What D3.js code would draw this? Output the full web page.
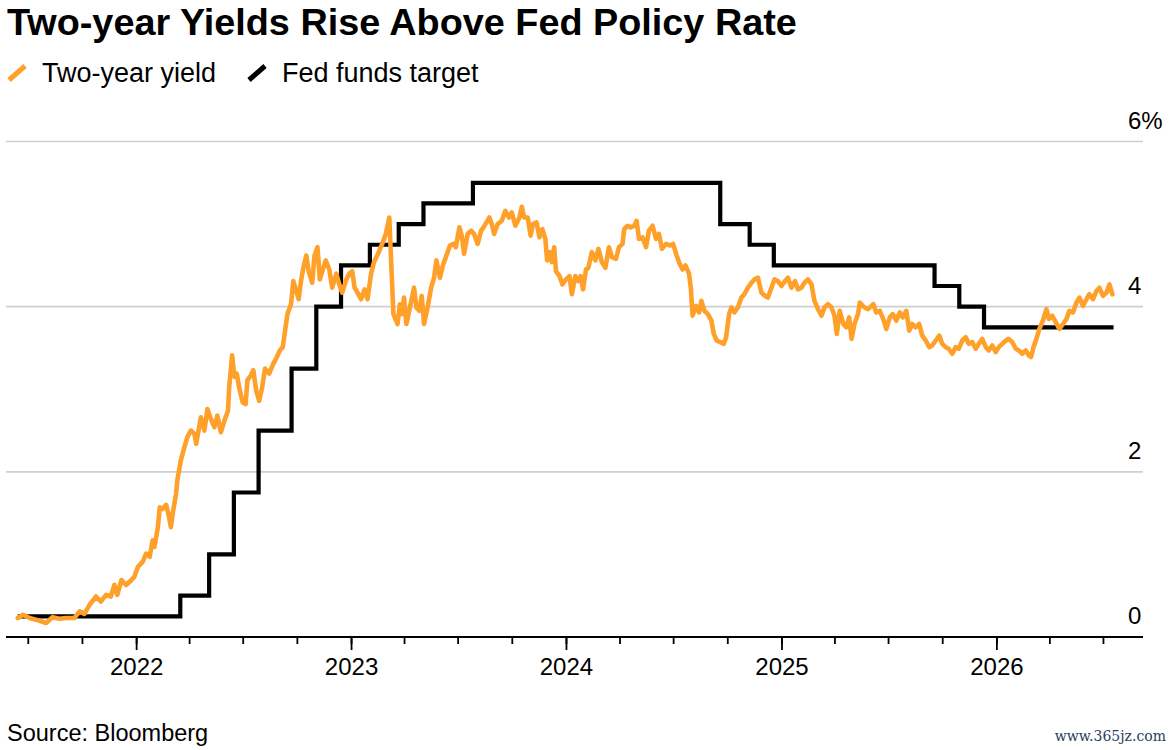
<!DOCTYPE html>
<html>
<head>
<meta charset="utf-8">
<script src="https://cdn.jsdelivr.net/npm/d3@7"></script>
<style>
  html, body { margin: 0; padding: 0; background: #fff; }
  #chart { width: 1175px; height: 750px; }
  #chart text { font-family: "Liberation Sans", Arial, Helvetica, sans-serif; fill: #000; }
</style>
</head>
<body>
<div id="chart"></div>
<script>
// Two-year Treasury yield (%)
const yieldDates = [
  "2021-06-14","2021-06-23","2021-07-04","2021-07-15","2021-08-01","2021-08-12","2021-08-24","2021-09-04","2021-09-18","2021-09-27",
  "2021-10-05","2021-10-14","2021-10-25","2021-11-02","2021-11-11","2021-11-19","2021-11-25","2021-11-30","2021-12-07","2021-12-15","2021-12-24","2021-12-29",
  "2022-01-04","2022-01-12","2022-01-18","2022-01-24","2022-01-29","2022-02-01","2022-02-07","2022-02-10","2022-02-15","2022-02-21","2022-02-26","2022-03-01","2022-03-04","2022-03-10","2022-03-12","2022-03-18","2022-03-24","2022-03-29",
  "2022-04-04","2022-04-10","2022-04-13","2022-04-21","2022-04-27","2022-05-02","2022-05-08","2022-05-14","2022-05-19","2022-05-25","2022-05-31","2022-06-06","2022-06-08","2022-06-13","2022-06-17","2022-06-21","2022-06-25",
  "2022-07-01","2022-07-06","2022-07-09","2022-07-15","2022-07-19","2022-07-24","2022-07-29","2022-08-03","2022-08-08","2022-08-15","2022-08-22","2022-08-28","2022-09-02","2022-09-07","2022-09-11","2022-09-15","2022-09-21","2022-09-25","2022-09-30",
  "2022-10-04","2022-10-08","2022-10-12","2022-10-17","2022-10-21","2022-10-27","2022-10-31","2022-11-05","2022-11-09","2022-11-14","2022-11-19","2022-11-25","2022-11-30","2022-12-07","2022-12-12","2022-12-17","2022-12-24","2022-12-29",
  "2023-01-03","2023-01-07","2023-01-12","2023-01-18","2023-01-24","2023-01-29","2023-02-04","2023-02-09","2023-02-17","2023-02-24","2023-03-01","2023-03-07","2023-03-10","2023-03-14","2023-03-21","2023-03-25","2023-03-29",
  "2023-04-01","2023-04-05","2023-04-11","2023-04-18","2023-04-22","2023-04-27","2023-05-01","2023-05-05","2023-05-11","2023-05-17","2023-05-22","2023-05-26","2023-06-01","2023-06-06","2023-06-11","2023-06-18","2023-06-24","2023-06-28",
  "2023-07-04","2023-07-08","2023-07-12","2023-07-18","2023-07-24","2023-07-29","2023-08-04","2023-08-10","2023-08-14","2023-08-19","2023-08-24","2023-08-28","2023-09-01","2023-09-07","2023-09-14","2023-09-20","2023-09-26",
  "2023-10-01","2023-10-07","2023-10-14","2023-10-18","2023-10-22","2023-10-28","2023-11-02","2023-11-06","2023-11-12","2023-11-17","2023-11-22","2023-11-27","2023-11-30","2023-12-05","2023-12-08","2023-12-12","2023-12-15","2023-12-21","2023-12-26",
  "2024-01-01","2024-01-07","2024-01-11","2024-01-17","2024-01-22","2024-01-26","2024-01-30","2024-02-04","2024-02-08","2024-02-14","2024-02-20","2024-02-25","2024-03-02","2024-03-08","2024-03-14","2024-03-19","2024-03-26","2024-03-31",
  "2024-04-06","2024-04-09","2024-04-15","2024-04-20","2024-04-26","2024-04-30","2024-05-04","2024-05-10","2024-05-16","2024-05-21","2024-05-27","2024-06-02","2024-06-07","2024-06-12","2024-06-19","2024-06-26",
  "2024-07-01","2024-07-07","2024-07-12","2024-07-17","2024-07-22","2024-07-28","2024-07-31","2024-08-03","2024-08-09","2024-08-14","2024-08-18","2024-08-23","2024-08-29","2024-09-04","2024-09-08","2024-09-13","2024-09-19","2024-09-25","2024-09-29",
  "2024-10-04","2024-10-08","2024-10-13","2024-10-19","2024-10-25","2024-10-30","2024-11-05","2024-11-11","2024-11-16","2024-11-22","2024-11-28","2024-12-04","2024-12-09","2024-12-15","2024-12-20","2024-12-26",
  "2025-01-01","2025-01-07","2025-01-12","2025-01-18","2025-01-24","2025-01-29","2025-02-04","2025-02-09","2025-02-15","2025-02-21","2025-02-26","2025-03-04","2025-03-10","2025-03-15","2025-03-21","2025-03-27",
  "2025-04-01","2025-04-05","2025-04-10","2025-04-16","2025-04-21","2025-04-26","2025-04-30","2025-05-05","2025-05-11","2025-05-14","2025-05-22","2025-05-28","2025-06-06","2025-06-11","2025-06-17","2025-06-23","2025-06-28",
  "2025-07-04","2025-07-09","2025-07-15","2025-07-21","2025-07-26","2025-08-01","2025-08-06","2025-08-11","2025-08-17","2025-08-23","2025-08-28","2025-09-03","2025-09-09","2025-09-14","2025-09-20","2025-09-26",
  "2025-10-01","2025-10-07","2025-10-12","2025-10-18","2025-10-24","2025-10-29","2025-11-04","2025-11-10","2025-11-15","2025-11-21","2025-11-27","2025-12-02","2025-12-08","2025-12-14","2025-12-19","2025-12-25","2025-12-31",
  "2026-01-05","2026-01-11","2026-01-17","2026-01-22","2026-01-28","2026-02-03","2026-02-08","2026-02-14","2026-02-20","2026-02-25","2026-03-01","2026-03-05","2026-03-10","2026-03-15","2026-03-21","2026-03-27","2026-03-31",
  "2026-04-06","2026-04-12","2026-04-18","2026-04-24","2026-04-30","2026-05-05","2026-05-11","2026-05-17","2026-05-22","2026-05-28","2026-06-03","2026-06-08","2026-06-14","2026-06-20","2026-06-25","2026-07-01","2026-07-07","2026-07-12","2026-07-17"
];
const yieldValues = [
  0.23,0.27,0.23,0.21,0.17,0.24,0.22,0.23,0.23,0.31,
  0.28,0.39,0.49,0.43,0.51,0.49,0.63,0.51,0.69,0.63,0.69,0.73,
  0.85,0.91,1.01,0.97,1.17,1.09,1.33,1.57,1.55,1.60,1.45,1.33,1.49,1.74,1.90,2.14,2.30,2.42,
  2.50,2.46,2.34,2.66,2.50,2.76,2.64,2.54,2.68,2.48,2.62,2.74,3.02,3.41,3.15,3.19,3.02,
  2.84,2.82,3.11,3.17,3.23,2.98,2.86,3.02,3.25,3.19,3.31,3.39,3.47,3.51,3.71,3.91,4.03,4.31,4.19,
  4.09,4.31,4.47,4.62,4.43,4.29,4.62,4.72,4.33,4.45,4.56,4.45,4.23,4.40,4.27,4.17,4.33,4.40,
  4.43,4.23,4.17,4.09,4.21,4.09,4.40,4.54,4.66,4.78,4.88,5.08,4.56,3.91,3.79,4.03,3.91,
  4.11,3.79,3.99,4.23,3.99,3.95,4.13,3.79,3.99,4.23,4.35,4.56,4.35,4.50,4.60,4.74,4.76,4.72,
  4.96,4.86,4.64,4.88,4.92,4.88,4.76,4.92,4.96,5.02,5.08,5.00,4.88,5.00,5.04,5.16,5.08,
  5.14,4.98,5.08,5.21,5.08,5.08,4.86,5.00,5.02,4.84,4.94,4.82,4.56,4.66,4.54,4.72,4.43,4.37,4.27,
  4.33,4.37,4.15,4.37,4.31,4.37,4.21,4.45,4.47,4.66,4.56,4.70,4.54,4.47,4.72,4.60,4.58,4.72,
  4.76,4.94,4.98,4.96,4.98,5.04,4.82,4.84,4.72,4.92,4.98,4.82,4.88,4.70,4.76,4.74,
  4.76,4.62,4.52,4.45,4.50,4.40,4.23,3.89,4.01,3.93,4.07,3.95,3.91,3.83,3.67,3.59,3.57,3.55,3.63,
  3.91,3.99,3.93,3.99,4.11,4.15,4.23,4.29,4.33,4.35,4.17,4.13,4.11,4.23,4.33,4.31,
  4.25,4.31,4.35,4.23,4.31,4.21,4.23,4.29,4.33,4.27,4.07,3.97,3.89,3.99,4.03,3.99,
  3.89,3.67,3.95,3.79,3.75,3.87,3.61,3.79,3.91,4.05,3.99,3.97,4.03,3.93,3.95,3.85,3.73,
  3.87,3.91,3.83,3.93,3.87,3.95,3.71,3.79,3.75,3.79,3.65,3.59,3.51,3.53,3.59,3.65,
  3.55,3.51,3.49,3.43,3.51,3.49,3.59,3.63,3.55,3.57,3.49,3.55,3.61,3.51,3.47,3.53,3.45,
  3.51,3.55,3.59,3.61,3.57,3.49,3.47,3.43,3.47,3.41,3.39,3.51,3.61,3.73,3.83,3.97,3.85,
  3.89,3.81,3.73,3.79,3.85,3.95,3.93,4.05,4.11,4.01,4.09,4.15,4.09,4.19,4.23,4.13,4.17,4.27,4.15
];

// Fed funds target (upper bound, %), value holds from each date until the next
const fedDates = [
  "2021-06-14","2022-03-17","2022-05-05","2022-06-16","2022-07-28","2022-09-22","2022-11-03","2022-12-15",
  "2023-02-02","2023-03-23","2023-05-04","2023-07-27","2024-09-19","2024-11-08","2024-12-19",
  "2025-09-18","2025-10-30","2025-12-11","2026-07-19"
];
const fedValues = [0.25, 0.5, 1.0, 1.75, 2.5, 3.25, 4.0, 4.5, 4.75, 5.0, 5.25, 5.5, 5.0, 4.75, 4.5, 4.25, 4.0, 3.75, 3.75];

const yTicks = [0, 2, 4, 6];
const yearLabels = ["2022", "2023", "2024", "2025", "2026"];
const legendLabels = ["Two-year yield", "Fed funds target"];
const seriesColors = ["#ffa02a", "#000000"];

const parse = d3.timeParse("%Y-%m-%d");
if (yieldDates.length !== yieldValues.length) console.error("yield arrays differ", yieldDates.length, yieldValues.length);

const yieldData = yieldDates.map((d, i) => ({ date: parse(d), value: yieldValues[i] }));
const fedData = fedDates.map((d, i) => ({ date: parse(d), value: fedValues[i] }));

const width = 1175, height = 750;
const plot = { left: 6, right: 1143, top: 141.5, bottom: 637 };

const svg = d3.select("#chart").append("svg")
  .attr("width", width)
  .attr("height", height);

svg.append("rect").attr("width", width).attr("height", height).attr("fill", "#fff");

// Scales
const x = d3.scaleTime()
  .domain([parse("2021-05-25"), parse("2026-09-07")])
  .range([plot.left, plot.right]);

const y = d3.scaleLinear()
  .domain([0, 6])
  .range([plot.bottom, plot.top]);

// Title + legend
svg.append("text")
  .attr("x", 7)
  .attr("y", 35)
  .style("font-size", "37.8px")
  .style("font-weight", "bold")
  .text("Two-year Yields Rise Above Fed Policy Rate");

const legendX = [7, 247];
const legend = svg.selectAll(".legend-item")
  .data(legendLabels)
  .enter().append("g")
  .attr("class", "legend-item")
  .attr("transform", (d, i) => `translate(${legendX[i]},0)`);

legend.append("line")
  .attr("x1", 2).attr("y1", 80)
  .attr("x2", 18).attr("y2", 66)
  .attr("stroke", (d, i) => seriesColors[i])
  .attr("stroke-width", 5);

legend.append("text")
  .attr("x", 35)
  .attr("y", 82)
  .style("font-size", "27px")
  .text(d => d);

// Gridlines (0 is drawn by the axis)
svg.append("g").attr("class", "grid")
  .selectAll("line")
  .data(yTicks.filter(d => d !== 0))
  .enter().append("line")
  .attr("x1", plot.left).attr("x2", plot.right)
  .attr("y1", d => y(d)).attr("y2", d => y(d))
  .attr("stroke", "#cfcfcf")
  .attr("stroke-width", 1.6);

// Right-hand value labels, sitting above their gridlines
svg.append("g")
  .attr("class", "y-axis")
  .attr("transform", `translate(1128,0)`)
  .call(d3.axisRight(y).tickValues(yTicks).tickSize(0).tickPadding(0)
    .tickFormat(d => d === 6 ? "6%" : d))
  .call(g => g.select(".domain").remove())
  .call(g => g.selectAll("text")
    .attr("dy", -13.5)
    .attr("fill", "#000")
    .style("font-size", "24px"));

// Bottom axis: quarterly minor ticks, longer ticks at year starts
const xAxis = svg.append("g").attr("class", "x-axis")
  .attr("transform", `translate(0,${plot.bottom})`);

xAxis.append("g")
  .call(d3.axisBottom(x).ticks(d3.timeMonth.every(3)).tickSize(7).tickFormat(""))
  .call(g => g.select(".domain").remove())
  .call(g => g.selectAll("line").attr("stroke", "#000").attr("stroke-width", 1.8));

xAxis.append("g")
  .call(d3.axisBottom(x)
    .tickValues(yearLabels.map(d => parse(`${d}-01-01`)))
    .tickSize(13).tickPadding(8)
    .tickFormat(d3.timeFormat("%Y")))
  .call(g => g.select(".domain").remove())
  .call(g => g.selectAll("line").attr("stroke", "#000").attr("stroke-width", 1.8))
  .call(g => g.selectAll("text").attr("fill", "#000").style("font-size", "24px"));

xAxis.append("line")
  .attr("x1", plot.left).attr("x2", plot.right)
  .attr("stroke", "#000")
  .attr("stroke-width", 2);

// Series
const fedLine = d3.line()
  .x(d => x(d.date))
  .y(d => y(d.value))
  .curve(d3.curveStepAfter);

const yieldLine = d3.line()
  .x(d => x(d.date))
  .y(d => y(d.value));

svg.append("path")
  .datum(fedData)
  .attr("fill", "none")
  .attr("stroke", seriesColors[1])
  .attr("stroke-width", 4.2)
  .attr("d", fedLine);

svg.append("path")
  .datum(yieldData)
  .attr("fill", "none")
  .attr("stroke", seriesColors[0])
  .attr("stroke-width", 4.6)
  .attr("stroke-linejoin", "round")
  .attr("stroke-linecap", "round")
  .attr("d", yieldLine);

// Footer
svg.append("text")
  .attr("x", 7)
  .attr("y", 741)
  .style("font-size", "23.5px")
  .text("Source: Bloomberg");

svg.append("text")
  .attr("x", 1166)
  .attr("y", 741)
  .attr("text-anchor", "end")
  .style("font-family", "'DejaVu Serif', serif")
  .style("font-size", "14px")
  .style("fill", "#2b3d5c")
  .text("www.365jz.com");
</script>
</body>
</html>
